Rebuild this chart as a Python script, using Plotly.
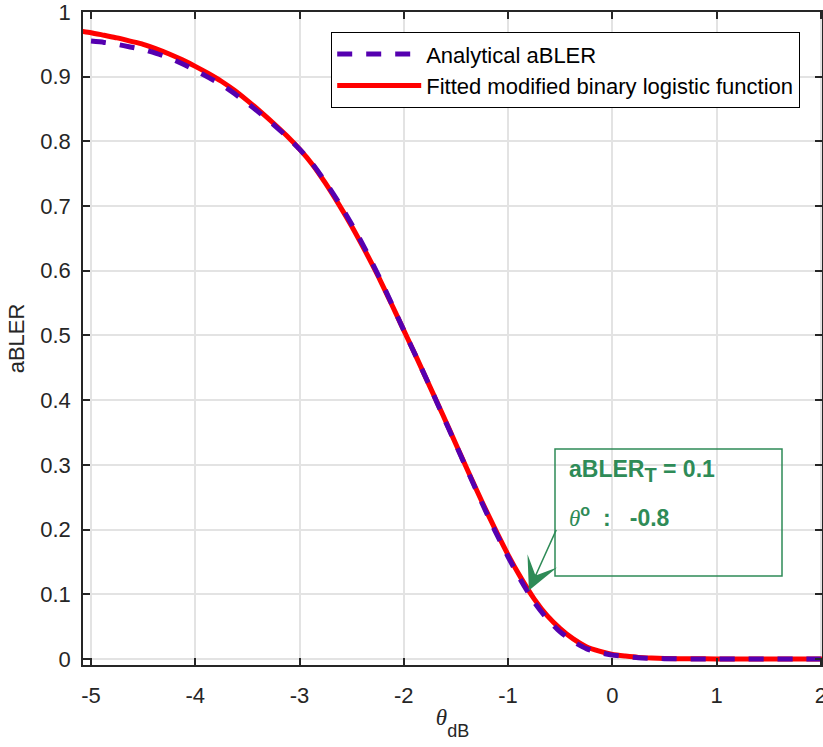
import plotly.graph_objects as go

# ---------------- data ----------------
theta_analytical = [-5.0, -4.875, -4.75, -4.625, -4.5, -4.375, -4.25, -4.125, -4.0, -3.875,
                    -3.75, -3.625, -3.5, -3.375, -3.25, -3.125, -3.0, -2.875, -2.75, -2.625,
                    -2.5, -2.375, -2.25, -2.125, -2.0, -1.875, -1.75, -1.625, -1.5, -1.375,
                    -1.25, -1.125, -1.0, -0.875, -0.75, -0.625, -0.5, -0.375, -0.25, -0.125,
                    0.0, 0.125, 0.25, 0.375, 0.5, 0.75, 1.0, 1.25, 1.5, 1.75, 2.0]
ablar_analytical = [0.955, 0.953, 0.950, 0.946, 0.942, 0.936, 0.929, 0.920, 0.910, 0.899,
                    0.888, 0.874, 0.859, 0.843, 0.826, 0.808, 0.788, 0.765, 0.737, 0.706,
                    0.672, 0.635, 0.595, 0.552, 0.508, 0.465, 0.421, 0.376, 0.331, 0.286,
                    0.241, 0.198, 0.158, 0.121, 0.088, 0.062, 0.042, 0.027, 0.016, 0.010,
                    0.006, 0.004, 0.002, 0.001, 0.0005, 0.0, 0.0, 0.0, 0.0, 0.0, 0.0]

theta_fitted = [-5.08, -5.0, -4.875, -4.75, -4.625, -4.5, -4.375, -4.25, -4.125, -4.0,
                -3.875, -3.75, -3.625, -3.5, -3.375, -3.25, -3.125, -3.0, -2.875, -2.75,
                -2.625, -2.5, -2.375, -2.25, -2.125, -2.0, -1.875, -1.75, -1.625, -1.5,
                -1.375, -1.25, -1.125, -1.0, -0.875, -0.75, -0.625, -0.5, -0.375, -0.25,
                -0.125, 0.0, 0.125, 0.25, 0.375, 0.5, 0.75, 1.0, 1.5, 2.0, 2.05]
ablar_fitted = [0.970, 0.968, 0.964, 0.960, 0.955, 0.950, 0.943, 0.935, 0.926, 0.916,
                0.905, 0.893, 0.879, 0.863, 0.846, 0.828, 0.809, 0.788, 0.764, 0.735,
                0.703, 0.669, 0.632, 0.593, 0.551, 0.508, 0.465, 0.421, 0.377, 0.332,
                0.287, 0.243, 0.201, 0.161, 0.125, 0.093, 0.067, 0.047, 0.031, 0.019,
                0.012, 0.007, 0.0045, 0.0025, 0.0015, 0.0008, 0.0003, 0.0001, 0.0, 0.0, 0.0]

x_ticks = [-5, -4, -3, -2, -1, 0, 1, 2]
x_ticktext = ["-5", "-4", "-3", "-2", "-1", "0", "1", "2"]
y_ticks = [0, 0.1, 0.2, 0.3, 0.4, 0.5, 0.6, 0.7, 0.8, 0.9, 1.0]
y_ticktext = ["0", "0.1", "0.2", "0.3", "0.4", "0.5", "0.6", "0.7", "0.8", "0.9", "1"]

target_ablar = 0.1
theta_o = -0.8

# ---------------- styles ----------------
FONT = "Liberation Sans, Arial, Helvetica, sans-serif"
AX = "#262626"
GRID = "#E3E3E3"
PURPLE = "#5500B0"
RED = "#FF0000"
GREEN = "#2E8B57"

fig = go.Figure()
fig.add_trace(go.Scatter(
    x=theta_fitted, y=ablar_fitted, mode="lines",
    name="Fitted modified binary logistic function",
    line=dict(color=RED, width=5, shape="spline", smoothing=0.6),
))
fig.add_trace(go.Scatter(
    x=theta_analytical, y=ablar_analytical, mode="lines",
    name="Analytical aBLER",
    line=dict(color=PURPLE, width=5, dash="15px,14px", shape="spline", smoothing=0.6),
))

axis_common = dict(
    showline=True, linecolor=AX, linewidth=1.5, mirror="allticks",
    ticks="inside", ticklen=7, tickwidth=1.5, tickcolor=AX,
    showgrid=True, gridcolor=GRID, gridwidth=1.5, zeroline=False,
    tickfont=dict(family=FONT, size=22, color=AX),
    ticklabeloverflow="allow", automargin=False,
)

fig.update_layout(
    width=823, height=747,
    margin=dict(l=83, r=1, t=12, b=82, pad=0),
    paper_bgcolor="white", plot_bgcolor="white",
    font=dict(family=FONT, size=22, color=AX),
    xaxis=dict(
        range=[-5.077, 2.011], tickvals=x_ticks, ticktext=x_ticktext,
        ticklabelstandoff=10,
        title=dict(text=("<span style=\"font-family:Liberation Serif\"><i>θ</i></span>"
                         "<sub><span style=\"font-size:18px;baseline-shift:-7px\">dB</span></sub>"),
                   font=dict(family=FONT, size=23, color=AX), standoff=2),
        **axis_common,
    ),
    yaxis=dict(
        range=[-0.0093, 1.0], tickvals=y_ticks, ticktext=y_ticktext,
        ticklabelstandoff=6,
        title=dict(text="aBLER", font=dict(family=FONT, size=22, color=AX), standoff=10),
        **axis_common,
    ),
    legend=dict(
        x=(331 - 83) / 739, y=1 - (32 - 12) / 653, xanchor="left", yanchor="top",
        bgcolor="white", bordercolor="black", borderwidth=1.2,
        font=dict(family=FONT, size=22, color="black"),
        itemwidth=84,
        traceorder="reversed",
    ),
    showlegend=True,
)

# annotation box
fig.add_shape(type="rect", xref="paper", yref="paper",
              x0=(555 - 83) / 739, x1=(782 - 83) / 739,
              y0=1 - (576 - 12) / 653, y1=1 - (449 - 12) / 653,
              line=dict(color=GREEN, width=1.5), fillcolor="rgba(0,0,0,0)")

fig.add_annotation(
    xref="paper", yref="paper", x=(567 - 83) / 739, y=1 - (471 - 12) / 653,
    xanchor="left", yanchor="middle", showarrow=False, align="left",
    text=f"<b>aBLER<sub><span style=\"font-size:20px\">T</span></sub> = {target_ablar:g}</b>",
    font=dict(family=FONT, size=23, color=GREEN),
)
fig.add_annotation(
    xref="paper", yref="paper", x=(567 - 83) / 739, y=1 - (516 - 12) / 653,
    xanchor="left", yanchor="middle", showarrow=False, align="left",
    text=(f"<span style=\"font-family:Liberation Serif\"><i>θ</i></span>"
          f"<b><sup>o</sup>  :   {theta_o:g}</b>"),
    font=dict(family=FONT, size=23, color=GREEN),
)
# arrow pointing at the target point on the curve
fig.add_annotation(
    x=theta_o, y=0.106, xref="x", yref="y", text="",
    showarrow=True, arrowhead=3, arrowsize=3.6, arrowwidth=1.5,
    arrowcolor=GREEN, ax=28, ay=-62, standoff=0,
)

fig.write_html("out.html")
